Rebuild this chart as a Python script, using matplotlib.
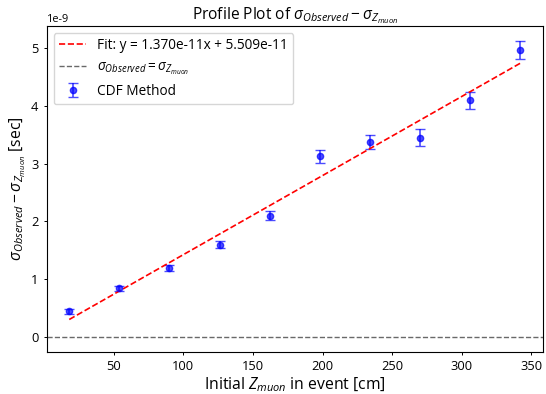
import matplotlib
matplotlib.use("Agg")
import matplotlib.pyplot as plt
import numpy as np

plt.rcParams['font.family'] = ['Open Sans', 'DejaVu Sans']
plt.rcParams['mathtext.fontset'] = 'custom'
plt.rcParams['mathtext.rm'] = 'Open Sans'
plt.rcParams['mathtext.it'] = 'Open Sans:italic'
plt.rcParams['mathtext.bf'] = 'Open Sans:bold'
plt.rcParams['axes.unicode_minus'] = False

# bin centres along z [cm] and profile values [sec]
z_centers = [18, 54, 90, 126, 162, 198, 234, 270, 306, 342]
sigma_diff = [0.44e-9, 0.84e-9, 1.20e-9, 1.60e-9, 2.10e-9, 3.13e-9, 3.38e-9, 3.45e-9, 4.10e-9, 4.97e-9]
sigma_err = [0.05e-9, 0.04e-9, 0.05e-9, 0.06e-9, 0.08e-9, 0.11e-9, 0.12e-9, 0.15e-9, 0.15e-9, 0.16e-9]

slope = 1.370e-11
intercept = 5.509e-11

fig = plt.figure(figsize=(5.46, 3.94), dpi=100)
ax = fig.add_axes([46.7/546, 42.3/394, 496/546, 325.7/394])

ax.errorbar(z_centers, sigma_diff, yerr=sigma_err, fmt='o', color='blue',
            alpha=0.7, capsize=3.5, markersize=4.5, elinewidth=1.2, label='CDF Method')
zz = np.array([min(z_centers), max(z_centers)])
ax.plot(zz, slope*zz + intercept, 'r--', linewidth=1.2,
        label='Fit: y = %.3ex + %.3e' % (slope, intercept))
ax.axhline(0, color='dimgray', linestyle='--', linewidth=1.0,
           label=r'$\sigma_{Observed} = \sigma_{Z_{muon}}$')

ax.set_title(r'Profile Plot of $\sigma_{Observed} - \sigma_{Z_{muon}}$', fontsize=11.2, pad=4)
ax.set_xlabel(r'Initial $Z_{muon}$ in event [cm]', fontsize=11.3, labelpad=2)
ax.set_ylabel(r'$\sigma_{Observed} - \sigma_{Z_{muon}}$ [sec]', fontsize=11.3, labelpad=2)
ax.tick_params(labelsize=9.3, length=2.5, width=0.7)
for s in ax.spines.values():
    s.set_linewidth(0.8)
ax.yaxis.get_offset_text().set_fontsize(7.8)
ax.legend(fontsize=9.8, loc='upper left')

fig.savefig('out.png', dpi=100)
